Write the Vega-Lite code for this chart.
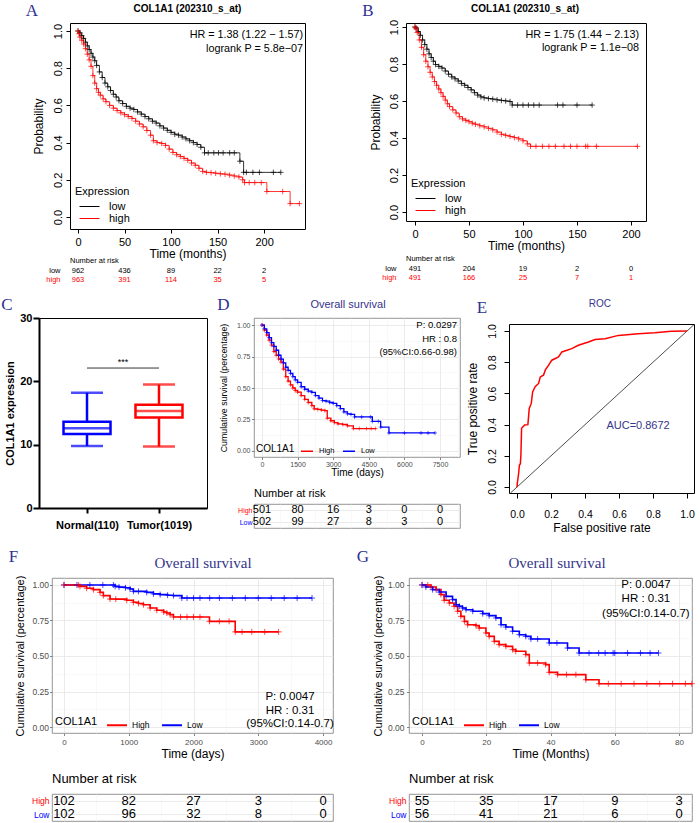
{
"$schema":"https://vega.github.io/schema/vega-lite/v6.json",
"padding":{"left":0,"top":1,"right":0,"bottom":0},
"autosize":{"type":"pad"},
"config":{"font":"Liberation Sans","view":{"stroke":null},"axis":{"labelFlush":false,"labelOverlap":false,"tickCount":20},"title":{"fontWeight":"normal","color":"black"}},
"datasets":{
"kmA":[
{"t":0,"s":1,"g":"low"},{"t":2,"s":0.99,"g":"low"},{"t":4,"s":0.975,"g":"low"},{"t":6,"s":0.96,"g":"low"},{"t":8,"s":0.94,"g":"low"},{"t":10,"s":0.92,"g":"low"},{"t":12,"s":0.9,"g":"low"},{"t":14,"s":0.88,"g":"low"},{"t":16,"s":0.86,"g":"low"},{"t":18,"s":0.84,"g":"low"},{"t":20,"s":0.815,"g":"low"},{"t":23,"s":0.78,"g":"low"},{"t":26,"s":0.75,"g":"low"},{"t":29,"s":0.72,"g":"low"},{"t":32,"s":0.7,"g":"low"},{"t":35,"s":0.68,"g":"low"},{"t":38,"s":0.66,"g":"low"},{"t":41,"s":0.645,"g":"low"},{"t":44,"s":0.625,"g":"low"},{"t":48,"s":0.61,"g":"low"},{"t":52,"s":0.595,"g":"low"},{"t":56,"s":0.585,"g":"low"},{"t":60,"s":0.578,"g":"low"},{"t":64,"s":0.565,"g":"low"},{"t":68,"s":0.553,"g":"low"},{"t":72,"s":0.54,"g":"low"},{"t":76,"s":0.528,"g":"low"},{"t":80,"s":0.515,"g":"low"},{"t":84,"s":0.505,"g":"low"},{"t":88,"s":0.49,"g":"low"},{"t":92,"s":0.478,"g":"low"},{"t":96,"s":0.466,"g":"low"},{"t":100,"s":0.455,"g":"low"},{"t":104,"s":0.445,"g":"low"},{"t":108,"s":0.44,"g":"low"},{"t":112,"s":0.43,"g":"low"},{"t":116,"s":0.42,"g":"low"},{"t":120,"s":0.41,"g":"low"},{"t":124,"s":0.4,"g":"low"},{"t":128,"s":0.39,"g":"low"},{"t":132,"s":0.375,"g":"low"},{"t":136,"s":0.345,"g":"low"},{"t":140,"s":0.345,"g":"low"},{"t":146,"s":0.345,"g":"low"},{"t":151,"s":0.345,"g":"low"},{"t":156,"s":0.345,"g":"low"},{"t":163,"s":0.345,"g":"low"},{"t":168,"s":0.345,"g":"low"},{"t":174,"s":0.3,"g":"low"},{"t":178,"s":0.24,"g":"low"},{"t":181,"s":0.24,"g":"low"},{"t":188,"s":0.24,"g":"low"},{"t":195,"s":0.24,"g":"low"},{"t":210,"s":0.24,"g":"low"},{"t":218,"s":0.24,"g":"low"},
{"t":0,"s":1,"g":"high"},{"t":1,"s":0.985,"g":"high"},{"t":2,"s":0.967,"g":"high"},{"t":4,"s":0.95,"g":"high"},{"t":6,"s":0.93,"g":"high"},{"t":8,"s":0.905,"g":"high"},{"t":10,"s":0.875,"g":"high"},{"t":12,"s":0.845,"g":"high"},{"t":14,"s":0.81,"g":"high"},{"t":16,"s":0.76,"g":"high"},{"t":18,"s":0.72,"g":"high"},{"t":20,"s":0.69,"g":"high"},{"t":22,"s":0.67,"g":"high"},{"t":24,"s":0.655,"g":"high"},{"t":27,"s":0.635,"g":"high"},{"t":30,"s":0.62,"g":"high"},{"t":34,"s":0.6,"g":"high"},{"t":38,"s":0.585,"g":"high"},{"t":42,"s":0.572,"g":"high"},{"t":46,"s":0.56,"g":"high"},{"t":50,"s":0.55,"g":"high"},{"t":54,"s":0.54,"g":"high"},{"t":58,"s":0.53,"g":"high"},{"t":62,"s":0.515,"g":"high"},{"t":66,"s":0.5,"g":"high"},{"t":70,"s":0.485,"g":"high"},{"t":74,"s":0.465,"g":"high"},{"t":78,"s":0.44,"g":"high"},{"t":81,"s":0.41,"g":"high"},{"t":85,"s":0.4,"g":"high"},{"t":90,"s":0.395,"g":"high"},{"t":94,"s":0.385,"g":"high"},{"t":98,"s":0.365,"g":"high"},{"t":102,"s":0.347,"g":"high"},{"t":106,"s":0.335,"g":"high"},{"t":110,"s":0.325,"g":"high"},{"t":114,"s":0.315,"g":"high"},{"t":118,"s":0.305,"g":"high"},{"t":122,"s":0.29,"g":"high"},{"t":126,"s":0.278,"g":"high"},{"t":130,"s":0.262,"g":"high"},{"t":134,"s":0.245,"g":"high"},{"t":138,"s":0.24,"g":"high"},{"t":143,"s":0.238,"g":"high"},{"t":148,"s":0.235,"g":"high"},{"t":153,"s":0.232,"g":"high"},{"t":158,"s":0.23,"g":"high"},{"t":163,"s":0.225,"g":"high"},{"t":168,"s":0.22,"g":"high"},{"t":173,"s":0.215,"g":"high"},{"t":177,"s":0.2,"g":"high"},{"t":179,"s":0.185,"g":"high"},{"t":184,"s":0.185,"g":"high"},{"t":190,"s":0.185,"g":"high"},{"t":197,"s":0.185,"g":"high"},{"t":203,"s":0.137,"g":"high"},{"t":220,"s":0.137,"g":"high"},{"t":228,"s":0.072,"g":"high"},{"t":238,"s":0.072,"g":"high"}
],
"kmB":[
{"t":0,"s":1,"g":"low"},{"t":1,"s":0.995,"g":"low"},{"t":3,"s":0.975,"g":"low"},{"t":5,"s":0.955,"g":"low"},{"t":7,"s":0.93,"g":"low"},{"t":9,"s":0.905,"g":"low"},{"t":11,"s":0.88,"g":"low"},{"t":13,"s":0.855,"g":"low"},{"t":15,"s":0.835,"g":"low"},{"t":17,"s":0.815,"g":"low"},{"t":19,"s":0.797,"g":"low"},{"t":22,"s":0.787,"g":"low"},{"t":25,"s":0.778,"g":"low"},{"t":28,"s":0.762,"g":"low"},{"t":31,"s":0.745,"g":"low"},{"t":34,"s":0.73,"g":"low"},{"t":37,"s":0.72,"g":"low"},{"t":40,"s":0.708,"g":"low"},{"t":43,"s":0.695,"g":"low"},{"t":46,"s":0.685,"g":"low"},{"t":49,"s":0.673,"g":"low"},{"t":52,"s":0.66,"g":"low"},{"t":55,"s":0.645,"g":"low"},{"t":58,"s":0.632,"g":"low"},{"t":61,"s":0.622,"g":"low"},{"t":64,"s":0.617,"g":"low"},{"t":68,"s":0.613,"g":"low"},{"t":72,"s":0.61,"g":"low"},{"t":76,"s":0.606,"g":"low"},{"t":80,"s":0.603,"g":"low"},{"t":84,"s":0.6,"g":"low"},{"t":88,"s":0.597,"g":"low"},{"t":90,"s":0.578,"g":"low"},{"t":95,"s":0.578,"g":"low"},{"t":100,"s":0.578,"g":"low"},{"t":105,"s":0.578,"g":"low"},{"t":110,"s":0.578,"g":"low"},{"t":115,"s":0.578,"g":"low"},{"t":132,"s":0.578,"g":"low"},{"t":137,"s":0.578,"g":"low"},{"t":150,"s":0.578,"g":"low"},{"t":164,"s":0.578,"g":"low"},
{"t":0,"s":1,"g":"high"},{"t":1,"s":0.99,"g":"high"},{"t":2,"s":0.97,"g":"high"},{"t":4,"s":0.93,"g":"high"},{"t":6,"s":0.89,"g":"high"},{"t":8,"s":0.85,"g":"high"},{"t":10,"s":0.815,"g":"high"},{"t":12,"s":0.785,"g":"high"},{"t":14,"s":0.755,"g":"high"},{"t":16,"s":0.73,"g":"high"},{"t":18,"s":0.705,"g":"high"},{"t":20,"s":0.685,"g":"high"},{"t":22,"s":0.665,"g":"high"},{"t":24,"s":0.645,"g":"high"},{"t":26,"s":0.625,"g":"high"},{"t":28,"s":0.605,"g":"high"},{"t":30,"s":0.585,"g":"high"},{"t":32,"s":0.57,"g":"high"},{"t":35,"s":0.552,"g":"high"},{"t":38,"s":0.535,"g":"high"},{"t":41,"s":0.515,"g":"high"},{"t":44,"s":0.503,"g":"high"},{"t":47,"s":0.495,"g":"high"},{"t":50,"s":0.488,"g":"high"},{"t":53,"s":0.48,"g":"high"},{"t":56,"s":0.474,"g":"high"},{"t":60,"s":0.466,"g":"high"},{"t":64,"s":0.46,"g":"high"},{"t":68,"s":0.452,"g":"high"},{"t":72,"s":0.444,"g":"high"},{"t":76,"s":0.432,"g":"high"},{"t":80,"s":0.42,"g":"high"},{"t":84,"s":0.414,"g":"high"},{"t":88,"s":0.408,"g":"high"},{"t":92,"s":0.402,"g":"high"},{"t":96,"s":0.395,"g":"high"},{"t":100,"s":0.385,"g":"high"},{"t":104,"s":0.368,"g":"high"},{"t":107,"s":0.355,"g":"high"},{"t":112,"s":0.355,"g":"high"},{"t":118,"s":0.355,"g":"high"},{"t":124,"s":0.355,"g":"high"},{"t":130,"s":0.355,"g":"high"},{"t":138,"s":0.355,"g":"high"},{"t":144,"s":0.355,"g":"high"},{"t":150,"s":0.355,"g":"high"},{"t":158,"s":0.355,"g":"high"},{"t":160,"s":0.355,"g":"high"},{"t":168,"s":0.355,"g":"high"},{"t":206,"s":0.355,"g":"high"}
],
"kmD":[
{"t":0,"s":1,"g":"High"},{"t":100,"s":0.96,"g":"High"},{"t":200,"s":0.92,"g":"High"},{"t":300,"s":0.88,"g":"High"},{"t":400,"s":0.84,"g":"High"},{"t":500,"s":0.79,"g":"High"},{"t":600,"s":0.76,"g":"High"},{"t":700,"s":0.73,"g":"High"},{"t":800,"s":0.705,"g":"High"},{"t":900,"s":0.65,"g":"High"},{"t":1000,"s":0.59,"g":"High"},{"t":1100,"s":0.555,"g":"High"},{"t":1200,"s":0.525,"g":"High"},{"t":1300,"s":0.5,"g":"High"},{"t":1400,"s":0.48,"g":"High"},{"t":1500,"s":0.467,"g":"High"},{"t":1650,"s":0.44,"g":"High"},{"t":1800,"s":0.41,"g":"High"},{"t":1950,"s":0.385,"g":"High"},{"t":2100,"s":0.36,"g":"High"},{"t":2200,"s":0.335,"g":"High"},{"t":2350,"s":0.33,"g":"High"},{"t":2500,"s":0.325,"g":"High"},{"t":2650,"s":0.32,"g":"High"},{"t":2750,"s":0.26,"g":"High"},{"t":2900,"s":0.24,"g":"High"},{"t":3050,"s":0.225,"g":"High"},{"t":3200,"s":0.215,"g":"High"},{"t":3400,"s":0.21,"g":"High"},{"t":3600,"s":0.2,"g":"High"},{"t":3850,"s":0.178,"g":"High"},{"t":4100,"s":0.178,"g":"High"},{"t":4400,"s":0.178,"g":"High"},{"t":4600,"s":0.178,"g":"High"},{"t":4790,"s":0.178,"g":"High"},
{"t":0,"s":1,"g":"Low"},{"t":100,"s":0.97,"g":"Low"},{"t":200,"s":0.94,"g":"Low"},{"t":300,"s":0.9,"g":"Low"},{"t":400,"s":0.86,"g":"Low"},{"t":500,"s":0.83,"g":"Low"},{"t":600,"s":0.8,"g":"Low"},{"t":700,"s":0.76,"g":"Low"},{"t":800,"s":0.73,"g":"Low"},{"t":900,"s":0.7,"g":"Low"},{"t":1000,"s":0.665,"g":"Low"},{"t":1100,"s":0.64,"g":"Low"},{"t":1200,"s":0.615,"g":"Low"},{"t":1300,"s":0.59,"g":"Low"},{"t":1400,"s":0.565,"g":"Low"},{"t":1500,"s":0.545,"g":"Low"},{"t":1650,"s":0.51,"g":"Low"},{"t":1800,"s":0.49,"g":"Low"},{"t":1950,"s":0.475,"g":"Low"},{"t":2100,"s":0.465,"g":"Low"},{"t":2250,"s":0.44,"g":"Low"},{"t":2400,"s":0.42,"g":"Low"},{"t":2550,"s":0.4,"g":"Low"},{"t":2700,"s":0.395,"g":"Low"},{"t":2850,"s":0.385,"g":"Low"},{"t":3000,"s":0.378,"g":"Low"},{"t":3150,"s":0.36,"g":"Low"},{"t":3300,"s":0.337,"g":"Low"},{"t":3450,"s":0.31,"g":"Low"},{"t":3600,"s":0.295,"g":"Low"},{"t":3750,"s":0.29,"g":"Low"},{"t":3900,"s":0.27,"g":"Low"},{"t":4200,"s":0.27,"g":"Low"},{"t":4580,"s":0.27,"g":"Low"},{"t":4650,"s":0.235,"g":"Low"},{"t":4900,"s":0.235,"g":"Low"},{"t":5000,"s":0.19,"g":"Low"},{"t":5350,"s":0.143,"g":"Low"},{"t":6000,"s":0.143,"g":"Low"},{"t":6700,"s":0.143,"g":"Low"},{"t":7000,"s":0.143,"g":"Low"},{"t":7290,"s":0.143,"g":"Low"}
],
"kmF":[
{"t":0,"s":1,"g":"Low"},{"t":200,"s":1,"g":"Low"},{"t":400,"s":1,"g":"Low"},{"t":600,"s":1,"g":"Low"},{"t":763,"s":1,"g":"Low"},{"t":790,"s":0.99,"g":"Low"},{"t":850,"s":0.985,"g":"Low"},{"t":950,"s":0.98,"g":"Low"},{"t":1020,"s":0.972,"g":"Low"},{"t":1072,"s":0.955,"g":"Low"},{"t":1150,"s":0.955,"g":"Low"},{"t":1278,"s":0.948,"g":"Low"},{"t":1381,"s":0.937,"g":"Low"},{"t":1485,"s":0.932,"g":"Low"},{"t":1600,"s":0.928,"g":"Low"},{"t":1691,"s":0.925,"g":"Low"},{"t":1820,"s":0.908,"g":"Low"},{"t":1900,"s":0.908,"g":"Low"},{"t":2000,"s":0.908,"g":"Low"},{"t":2100,"s":0.908,"g":"Low"},{"t":2250,"s":0.908,"g":"Low"},{"t":2400,"s":0.908,"g":"Low"},{"t":2600,"s":0.908,"g":"Low"},{"t":2800,"s":0.908,"g":"Low"},{"t":3000,"s":0.908,"g":"Low"},{"t":3200,"s":0.908,"g":"Low"},{"t":3400,"s":0.908,"g":"Low"},{"t":3600,"s":0.908,"g":"Low"},{"t":3830,"s":0.908,"g":"Low"},
{"t":0,"s":1,"g":"High"},{"t":222,"s":1,"g":"High"},{"t":247,"s":0.99,"g":"High"},{"t":350,"s":0.977,"g":"High"},{"t":454,"s":0.967,"g":"High"},{"t":557,"s":0.948,"g":"High"},{"t":608,"s":0.925,"g":"High"},{"t":711,"s":0.901,"g":"High"},{"t":800,"s":0.9,"g":"High"},{"t":969,"s":0.892,"g":"High"},{"t":1072,"s":0.878,"g":"High"},{"t":1150,"s":0.87,"g":"High"},{"t":1227,"s":0.861,"g":"High"},{"t":1330,"s":0.838,"g":"High"},{"t":1433,"s":0.822,"g":"High"},{"t":1540,"s":0.81,"g":"High"},{"t":1588,"s":0.803,"g":"High"},{"t":1639,"s":0.791,"g":"High"},{"t":1691,"s":0.775,"g":"High"},{"t":1800,"s":0.775,"g":"High"},{"t":1900,"s":0.775,"g":"High"},{"t":2000,"s":0.775,"g":"High"},{"t":2100,"s":0.775,"g":"High"},{"t":2247,"s":0.744,"g":"High"},{"t":2400,"s":0.744,"g":"High"},{"t":2550,"s":0.744,"g":"High"},{"t":2644,"s":0.67,"g":"High"},{"t":2750,"s":0.67,"g":"High"},{"t":2900,"s":0.67,"g":"High"},{"t":3100,"s":0.67,"g":"High"},{"t":3314,"s":0.67,"g":"High"}
],
"kmG":[
{"t":0,"s":1,"g":"High"},{"t":1.8,"s":1,"g":"High"},{"t":2.8,"s":0.986,"g":"High"},{"t":4.4,"s":0.967,"g":"High"},{"t":5.9,"s":0.932,"g":"High"},{"t":6.9,"s":0.892,"g":"High"},{"t":8.5,"s":0.873,"g":"High"},{"t":10,"s":0.85,"g":"High"},{"t":11.1,"s":0.815,"g":"High"},{"t":12.1,"s":0.779,"g":"High"},{"t":13.2,"s":0.744,"g":"High"},{"t":14.2,"s":0.72,"g":"High"},{"t":16.8,"s":0.714,"g":"High"},{"t":17.8,"s":0.697,"g":"High"},{"t":19.9,"s":0.662,"g":"High"},{"t":20.9,"s":0.638,"g":"High"},{"t":22.5,"s":0.603,"g":"High"},{"t":24,"s":0.58,"g":"High"},{"t":26.1,"s":0.568,"g":"High"},{"t":28.2,"s":0.545,"g":"High"},{"t":29.2,"s":0.533,"g":"High"},{"t":32.3,"s":0.51,"g":"High"},{"t":33.4,"s":0.451,"g":"High"},{"t":36,"s":0.451,"g":"High"},{"t":38.5,"s":0.439,"g":"High"},{"t":39.6,"s":0.385,"g":"High"},{"t":42.2,"s":0.369,"g":"High"},{"t":45,"s":0.369,"g":"High"},{"t":47.9,"s":0.369,"g":"High"},{"t":51,"s":0.333,"g":"High"},{"t":55.1,"s":0.305,"g":"High"},{"t":58,"s":0.305,"g":"High"},{"t":62,"s":0.305,"g":"High"},{"t":66,"s":0.305,"g":"High"},{"t":70,"s":0.305,"g":"High"},{"t":74,"s":0.305,"g":"High"},{"t":78,"s":0.305,"g":"High"},{"t":82,"s":0.305,"g":"High"},{"t":84,"s":0.305,"g":"High"},
{"t":0,"s":1,"g":"Low"},{"t":1.2,"s":0.986,"g":"Low"},{"t":3.3,"s":0.967,"g":"Low"},{"t":5.4,"s":0.95,"g":"Low"},{"t":7.5,"s":0.92,"g":"Low"},{"t":9.5,"s":0.897,"g":"Low"},{"t":10.6,"s":0.861,"g":"Low"},{"t":11.6,"s":0.85,"g":"Low"},{"t":12.6,"s":0.838,"g":"Low"},{"t":13.7,"s":0.826,"g":"Low"},{"t":15.8,"s":0.815,"g":"Low"},{"t":18.9,"s":0.798,"g":"Low"},{"t":20.9,"s":0.784,"g":"Low"},{"t":23,"s":0.768,"g":"Low"},{"t":24.6,"s":0.72,"g":"Low"},{"t":26.1,"s":0.704,"g":"Low"},{"t":28.2,"s":0.674,"g":"Low"},{"t":30.3,"s":0.65,"g":"Low"},{"t":32.3,"s":0.638,"g":"Low"},{"t":33.9,"s":0.62,"g":"Low"},{"t":36,"s":0.62,"g":"Low"},{"t":39.6,"s":0.592,"g":"Low"},{"t":42,"s":0.592,"g":"Low"},{"t":45.3,"s":0.556,"g":"Low"},{"t":48.9,"s":0.521,"g":"Low"},{"t":52,"s":0.521,"g":"Low"},{"t":55,"s":0.521,"g":"Low"},{"t":57,"s":0.521,"g":"Low"},{"t":59.5,"s":0.521,"g":"Low"},{"t":60,"s":0.521,"g":"Low"},{"t":64,"s":0.521,"g":"Low"},{"t":68,"s":0.521,"g":"Low"},{"t":71,"s":0.521,"g":"Low"},{"t":73.6,"s":0.521,"g":"Low"}
],
"roc":[
{"fpr":0,"tpr":0},{"fpr":0.002,"tpr":0.026},{"fpr":0.01,"tpr":0.09},{"fpr":0.014,"tpr":0.14},{"fpr":0.02,"tpr":0.15},{"fpr":0.023,"tpr":0.206},{"fpr":0.027,"tpr":0.377},{"fpr":0.045,"tpr":0.398},{"fpr":0.064,"tpr":0.4},{"fpr":0.068,"tpr":0.45},{"fpr":0.072,"tpr":0.504},{"fpr":0.084,"tpr":0.536},{"fpr":0.092,"tpr":0.61},{"fpr":0.107,"tpr":0.643},{"fpr":0.127,"tpr":0.664},{"fpr":0.137,"tpr":0.706},{"fpr":0.156,"tpr":0.717},{"fpr":0.166,"tpr":0.749},{"fpr":0.186,"tpr":0.781},{"fpr":0.205,"tpr":0.813},{"fpr":0.244,"tpr":0.834},{"fpr":0.264,"tpr":0.866},{"fpr":0.322,"tpr":0.887},{"fpr":0.361,"tpr":0.909},{"fpr":0.42,"tpr":0.93},{"fpr":0.459,"tpr":0.945},{"fpr":0.518,"tpr":0.951},{"fpr":0.596,"tpr":0.972},{"fpr":0.713,"tpr":0.983},{"fpr":0.81,"tpr":0.989},{"fpr":0.908,"tpr":0.998},{"fpr":1,"tpr":1}
],
"diag":[{"x":-0.038,"y":-0.038},{"x":1.041,"y":1.041}],
"box":[
{"grp":"Normal(110)","min":9.8,"q1":11.7,"med":12.6,"q3":13.6,"max":18.2},
{"grp":"Tumor(1019)","min":9.7,"q1":14.3,"med":15.3,"q3":16.3,"max":19.5}
],
"riskA":[{"t":0,"g":"low","n":"962"},{"t":50,"g":"low","n":"436"},{"t":100,"g":"low","n":"89"},{"t":150,"g":"low","n":"22"},{"t":200,"g":"low","n":"2"},{"t":0,"g":"high","n":"963"},{"t":50,"g":"high","n":"391"},{"t":100,"g":"high","n":"114"},{"t":150,"g":"high","n":"35"},{"t":200,"g":"high","n":"5"}],
"riskB":[{"t":0,"g":"low","n":"491"},{"t":50,"g":"low","n":"204"},{"t":100,"g":"low","n":"19"},{"t":150,"g":"low","n":"2"},{"t":200,"g":"low","n":"0"},{"t":0,"g":"high","n":"491"},{"t":50,"g":"high","n":"166"},{"t":100,"g":"high","n":"25"},{"t":150,"g":"high","n":"7"},{"t":200,"g":"high","n":"1"}],
"riskD":[{"t":0,"g":"High","n":"501"},{"t":1500,"g":"High","n":"80"},{"t":3000,"g":"High","n":"16"},{"t":4500,"g":"High","n":"3"},{"t":6000,"g":"High","n":"0"},{"t":7500,"g":"High","n":"0"},{"t":0,"g":"Low","n":"502"},{"t":1500,"g":"Low","n":"99"},{"t":3000,"g":"Low","n":"27"},{"t":4500,"g":"Low","n":"8"},{"t":6000,"g":"Low","n":"3"},{"t":7500,"g":"Low","n":"0"}],
"riskF":[{"t":0,"g":"High","n":"102"},{"t":1000,"g":"High","n":"82"},{"t":2000,"g":"High","n":"27"},{"t":3000,"g":"High","n":"3"},{"t":4000,"g":"High","n":"0"},{"t":0,"g":"Low","n":"102"},{"t":1000,"g":"Low","n":"96"},{"t":2000,"g":"Low","n":"32"},{"t":3000,"g":"Low","n":"8"},{"t":4000,"g":"Low","n":"0"}],
"riskG":[{"t":0,"g":"High","n":"55"},{"t":20,"g":"High","n":"35"},{"t":40,"g":"High","n":"17"},{"t":60,"g":"High","n":"9"},{"t":80,"g":"High","n":"3"},{"t":0,"g":"Low","n":"56"},{"t":20,"g":"Low","n":"41"},{"t":40,"g":"Low","n":"21"},{"t":60,"g":"Low","n":"6"},{"t":80,"g":"Low","n":"0"}]
},
"spacing":11,
"resolve":{"scale":{"color":"independent"},"legend":{"color":"independent"}},
"vconcat":[
{"spacing":-15,"resolve":{"scale":{"color":"independent"},"legend":{"color":"independent"}},
 "hconcat":[
  {"width":1,"height":1,"data":{"values":[]},"mark":"point"},
  {"spacing":55,"resolve":{"scale":{"color":"independent"},"legend":{"color":"independent"}},
   "hconcat":[
    {"bounds":"flush","spacing":37,"resolve":{"scale":{"color":"independent"},"legend":{"color":"independent"}},
     "vconcat":[
      {"width":235,"height":206,"view":{"stroke":"black","strokeWidth":1},
       "layer":[
        {"data":{"name":"kmA"},"mark":{"type":"line","interpolate":"step-after","strokeWidth":0.8},
         "encoding":{
          "x":{"field":"t","type":"quantitative","scale":{"domain":[-8.6,244],"nice":false,"zero":false},
               "axis":{"values":[0,50,100,150,200],"tickCount":20,"format":"d","labelOverlap":false,"title":"Time (months)","titleFontSize":12,"titleFontWeight":"normal","titleColor":"black","titlePadding":1,"labelFontSize":11,"labelColor":"black","labelPadding":3,"tickSize":4,"tickColor":"black","domain":false,"grid":false}},
          "y":{"field":"s","type":"quantitative","scale":{"domain":[-0.0645,1.043],"nice":false,"zero":false},
               "axis":{"values":[0,0.2,0.4,0.6,0.8,1],"tickCount":20,"format":".1f","labelOverlap":false,"labelAngle":270,"title":"Probability","titleFontSize":12,"titleFontWeight":"normal","titleColor":"black","titlePadding":7,"labelFontSize":11,"labelColor":"black","labelPadding":3,"tickSize":4,"tickColor":"black","domain":false,"grid":false}},
          "color":{"field":"g","type":"nominal","scale":{"domain":["low","high"],"range":["black","#ff0000"]},
               "legend":{"orient":"bottom-left","title":"Expression","titleFontSize":11,"titleFontWeight":"normal","titleColor":"black","labelFontSize":11,"labelColor":"black","symbolType":"M-0.33,0H3","symbolStrokeWidth":1,"symbolSize":144,"offset":5,"padding":0,"rowPadding":0,"labelOffset":21,"titlePadding":3}}}},
        {"data":{"name":"kmA"},"mark":{"type":"point","shape":"M-1,0L1,0M0,-1L0,1","size":30,"filled":false,"strokeWidth":0.7,"opacity":1},
         "encoding":{"x":{"field":"t","type":"quantitative"},"y":{"field":"s","type":"quantitative"},"color":{"field":"g","type":"nominal"}}},
        {"data":{"values":[{}]},"mark":{"type":"text","align":"right","baseline":"top","fontSize":10.8,"lineHeight":14,"color":"black","text":["HR = 1.38 (1.22 − 1.57)","logrank P = 5.8e−07"]},
         "encoding":{"x":{"datum":242},"y":{"datum":1.011}}},
        {"data":{"values":[{}]},"mark":{"type":"text","align":"center","baseline":"middle","fontSize":10,"fontWeight":"bold","color":"black","text":"COL1A1 (202310_s_at)"},
         "encoding":{"x":{"datum":117.7},"y":{"datum":1.1156}}},
        {"data":{"values":[{}]},"mark":{"type":"text","text":"A","font":"Liberation Serif","fontSize":17,"align":"center","baseline":"alphabetic","color":"#2e3192"},
         "encoding":{"x":{"datum":-49.5},"y":{"datum":1.081}}}
       ]},
      {"width":235,"height":18,
       "title":{"text":"Number at risk","anchor":"start","frame":"group","fontSize":7.5,"offset":2,"color":"black"},
       "data":{"name":"riskA"},
       "mark":{"type":"text","fontSize":7.5},
       "encoding":{
        "x":{"field":"t","type":"quantitative","scale":{"domain":[-8.6,244],"nice":false,"zero":false},"axis":null},
        "y":{"field":"g","type":"nominal","scale":{"domain":["low","high"]},"axis":{"title":null,"domain":false,"ticks":false,"labelFontSize":7.5,"labelPadding":10,"labelColor":{"condition":{"test":"datum.value==='high'","value":"#ff0000"},"value":"black"}}},
        "text":{"field":"n"},
        "color":{"condition":{"test":"datum.g==='high'","value":"#ff0000"},"value":"black"}
       }}
     ]},
    {"bounds":"flush","spacing":43,"resolve":{"scale":{"color":"independent"},"legend":{"color":"independent"}},
     "vconcat":[
      {"width":240,"height":198,"view":{"stroke":"black","strokeWidth":1},
       "layer":[
        {"data":{"name":"kmB"},"mark":{"type":"line","interpolate":"step-after","strokeWidth":0.8},
         "encoding":{
          "x":{"field":"t","type":"quantitative","scale":{"domain":[-8.33,213.9],"nice":false,"zero":false},
               "axis":{"values":[0,50,100,150,200],"tickCount":20,"format":"d","labelOverlap":false,"title":"Time (months)","titleFontSize":12,"titleFontWeight":"normal","titleColor":"black","titlePadding":1,"labelFontSize":11,"labelColor":"black","labelPadding":3,"tickSize":4,"tickColor":"black","domain":false,"grid":false}},
          "y":{"field":"s","type":"quantitative","scale":{"domain":[-0.0486,1.0216],"nice":false,"zero":false},
               "axis":{"values":[0,0.2,0.4,0.6,0.8,1],"tickCount":20,"format":".1f","labelOverlap":false,"labelAngle":270,"title":"Probability","titleFontSize":12,"titleFontWeight":"normal","titleColor":"black","titlePadding":6,"labelFontSize":11,"labelColor":"black","labelPadding":3,"tickSize":4,"tickColor":"black","domain":false,"grid":false}},
          "color":{"field":"g","type":"nominal","scale":{"domain":["low","high"],"range":["black","#ff0000"]},
               "legend":{"orient":"bottom-left","title":"Expression","titleFontSize":11,"titleFontWeight":"normal","titleColor":"black","labelFontSize":11,"labelColor":"black","symbolType":"M-0.33,0H3","symbolStrokeWidth":1,"symbolSize":144,"offset":5,"padding":0,"rowPadding":0,"labelOffset":21,"titlePadding":3}}}},
        {"data":{"name":"kmB"},"mark":{"type":"point","shape":"M-1,0L1,0M0,-1L0,1","size":30,"filled":false,"strokeWidth":0.7,"opacity":1},
         "encoding":{"x":{"field":"t","type":"quantitative"},"y":{"field":"s","type":"quantitative"},"color":{"field":"g","type":"nominal"}}},
        {"data":{"values":[{}]},"mark":{"type":"text","align":"right","baseline":"top","fontSize":10.8,"lineHeight":12.5,"color":"black","text":["HR = 1.75 (1.44 − 2.13)","logrank P = 1.1e−08"]},
         "encoding":{"x":{"datum":207.4},"y":{"datum":0.989}}},
        {"data":{"values":[{}]},"mark":{"type":"text","align":"center","baseline":"middle","fontSize":10,"fontWeight":"bold","color":"black","text":"COL1A1 (202310_s_at)"},
         "encoding":{"x":{"datum":101.9},"y":{"datum":1.0946}}},
        {"data":{"values":[{}]},"mark":{"type":"text","text":"B","font":"Liberation Serif","fontSize":17,"align":"center","baseline":"alphabetic","color":"#2e3192"},
         "encoding":{"x":{"datum":-43.5},"y":{"datum":1.059}}}
       ]},
      {"width":240,"height":18,
       "title":{"text":"Number at risk","anchor":"start","frame":"group","fontSize":7.5,"offset":2,"color":"black"},
       "data":{"name":"riskB"},
       "mark":{"type":"text","fontSize":7.5},
       "encoding":{
        "x":{"field":"t","type":"quantitative","scale":{"domain":[-8.33,213.9],"nice":false,"zero":false},"axis":null},
        "y":{"field":"g","type":"nominal","scale":{"domain":["low","high"]},"axis":{"title":null,"domain":false,"ticks":false,"labelFontSize":7.5,"labelPadding":10,"labelColor":{"condition":{"test":"datum.value==='high'","value":"#ff0000"},"value":"black"}}},
        "text":{"field":"n"},
        "color":{"condition":{"test":"datum.g==='high'","value":"#ff0000"},"value":"black"}
       }}
     ]}
   ]}
 ]},
{"spacing":13,"resolve":{"scale":{"color":"independent"},"legend":{"color":"independent"}},
 "vconcat":[
  {"spacing":8,"resolve":{"scale":{"color":"independent"},"legend":{"color":"independent"}},
   "hconcat":[
    {"width":168,"height":190,"view":{"stroke":"black","strokeWidth":1},
     "data":{"name":"box"},
     "encoding":{
      "x":{"field":"grp","type":"nominal","scale":{"type":"point","domain":["Normal(110)","Tumor(1019)"],"padding":0.667},
           "axis":{"title":null,"labelAngle":0,"labelFontSize":11,"labelFontWeight":"bold","labelColor":"black","domainColor":"black","domainWidth":2,"tickColor":"black","tickWidth":2,"tickSize":5,"labelPadding":6}},
      "color":{"condition":{"test":"datum.grp==='Normal(110)'","value":"#0000ff"},"value":"#ff0000"}
     },
     "layer":[
      {"mark":{"type":"rule","strokeWidth":2.5},
       "encoding":{"y":{"field":"min","type":"quantitative","scale":{"domain":[0,30],"nice":false,"zero":true},
            "axis":{"values":[0,10,20,30],"tickCount":20,"labelOverlap":false,"title":"COL1A1 expression","titleFontSize":11,"titleFontWeight":"bold","titleColor":"black","titlePadding":4,"labelFontSize":11,"labelFontWeight":"bold","labelColor":"black","domainColor":"black","domainWidth":2,"tickColor":"black","tickWidth":2,"tickSize":6,"labelPadding":1,"grid":false}},
        "y2":{"field":"max"}}},
      {"mark":{"type":"bar","width":47,"fill":"white","strokeWidth":2.5},
       "encoding":{"y":{"field":"q1","type":"quantitative"},"y2":{"field":"q3"},
        "stroke":{"condition":{"test":"datum.grp==='Normal(110)'","value":"#0000ff"},"value":"#ff0000"},
        "fill":{"value":"white"}}},
      {"mark":{"type":"tick","size":47,"thickness":2.5},"encoding":{"y":{"field":"med","type":"quantitative"}}},
      {"mark":{"type":"tick","size":32,"thickness":2.5},"encoding":{"y":{"field":"min","type":"quantitative"}}},
      {"mark":{"type":"tick","size":32,"thickness":2.5},"encoding":{"y":{"field":"max","type":"quantitative"}}},
      {"data":{"values":[{}]},"mark":{"type":"rule","strokeWidth":0.8},
       "encoding":{"x":{"datum":"Normal(110)"},"x2":{"datum":"Tumor(1019)"},"y":{"datum":22.1},"color":{"value":"black"}}},
      {"data":{"values":[{}]},"mark":{"type":"text","text":"***","fontSize":9,"dx":36,"align":"center","baseline":"alphabetic"},
       "encoding":{"x":{"datum":"Normal(110)"},"y":{"datum":22.6},"color":{"value":"black"}}},
      {"data":{"values":[{}]},"mark":{"type":"text","text":"C","font":"Liberation Serif","fontSize":17,"dx":-80,"align":"center","baseline":"alphabetic"},
       "encoding":{"x":{"datum":"Normal(110)"},"y":{"datum":31.26},"color":{"value":"#2e3192"}}}
     ]},
    {"spacing":5,"resolve":{"scale":{"color":"independent"},"legend":{"color":"independent"}},
     "hconcat":[
      {"bounds":"flush","spacing":47,"resolve":{"scale":{"color":"independent"},"legend":{"color":"independent"}},
       "vconcat":[
        {"width":206,"height":139,"view":{"stroke":"#7a7a7a","strokeWidth":0.8},
         "layer":[
          {"data":{"name":"kmD"},"mark":{"type":"line","interpolate":"step-after","strokeWidth":1.3},
           "encoding":{
            "x":{"field":"t","type":"quantitative","scale":{"domain":[-337,8343],"nice":false,"zero":false},
                 "axis":{"values":[0,750,1500,2250,3000,3750,4500,5250,6000,6750,7500,8250],"tickCount":20,"format":"d","labelOverlap":false,"labelExpr":"datum.value % 1500 === 0 ? datum.label : ''",
                         "tickOpacity":{"condition":{"test":"datum.value % 1500 !== 0","value":0},"value":1},
                         "grid":true,"gridColor":{"condition":{"test":"datum.value % 1500 !== 0","value":"#f3f3f3"},"value":"#e6e6e6"},"gridWidth":{"condition":{"test":"datum.value % 1500 !== 0","value":0.5},"value":0.8},
                         "domain":false,"tickSize":2.5,"tickColor":"#333333","tickWidth":0.6,"labelFontSize":7,"labelColor":"#4d4d4d","labelPadding":1,
                         "title":"Time (days)","titleFontSize":10,"titleFontWeight":"normal","titleColor":"black","titlePadding":0}},
            "y":{"field":"s","type":"quantitative","scale":{"domain":[-0.048,1.056],"nice":false,"zero":false},
                 "axis":{"values":[0,0.125,0.25,0.375,0.5,0.625,0.75,0.875,1],"tickCount":20,"format":".2f","labelOverlap":false,"labelExpr":"abs(datum.value*4-round(datum.value*4))>0.01 ? '' : datum.label",
                         "tickOpacity":{"condition":{"test":"abs(datum.value*4-round(datum.value*4))>0.01","value":0},"value":1},
                         "grid":true,"gridColor":{"condition":{"test":"abs(datum.value*4-round(datum.value*4))>0.01","value":"#f3f3f3"},"value":"#e6e6e6"},"gridWidth":{"condition":{"test":"abs(datum.value*4-round(datum.value*4))>0.01","value":0.5},"value":0.8},
                         "domain":false,"tickSize":2.5,"tickColor":"#333333","tickWidth":0.6,"labelFontSize":7,"labelColor":"#4d4d4d","labelPadding":1.5,
                         "title":"Cumulative survival (percentage)","titleFontSize":8.8,"titleFontWeight":"normal","titleColor":"black","titlePadding":8}},
            "color":{"field":"g","type":"nominal","scale":{"domain":["High","Low"],"range":["#ff0000","#0000ff"]},
                 "legend":{"orient":"bottom-left","direction":"horizontal","title":"COL1A1","titleOrient":"left","titleFontSize":10,"titleFontWeight":"normal","titleColor":"black","labelFontSize":7.5,"labelColor":"black","symbolType":"stroke","symbolStrokeWidth":1.5,"symbolSize":144,"offset":2,"padding":0,"columnPadding":5,"labelOffset":5,"titlePadding":5}}}},
          {"data":{"name":"kmD"},"mark":{"type":"point","shape":"M-1,0L1,0M0,-1L0,1","size":16,"filled":false,"strokeWidth":0.6,"opacity":1},
           "encoding":{"x":{"field":"t","type":"quantitative"},"y":{"field":"s","type":"quantitative"},"color":{"field":"g","type":"nominal"}}},
          {"data":{"values":[{}]},"mark":{"type":"text","align":"right","baseline":"top","fontSize":9.5,"lineHeight":13.5,"color":"black","text":["P: 0.0297","HR : 0.8","(95%CI:0.66-0.98)"]},
           "encoding":{"x":{"datum":8217},"y":{"datum":1.04}}},
          {"data":{"values":[{}]},"mark":{"type":"text","align":"center","baseline":"middle","fontSize":11,"color":"#35358a","text":"Overall survival"},
           "encoding":{"x":{"datum":3624},"y":{"datum":1.159}}},
          {"data":{"values":[{}]},"mark":{"type":"text","text":"D","font":"Liberation Serif","fontSize":17,"align":"center","baseline":"alphabetic","color":"#2e3192"},
           "encoding":{"x":{"datum":-1622},"y":{"datum":1.1195}}}
         ]},
        {"width":206,"height":24,"view":{"stroke":"#7a7a7a","strokeWidth":0.8},
         "title":{"text":"Number at risk","anchor":"start","frame":"group","fontSize":11,"offset":5,"color":"black"},
         "data":{"name":"riskD"},
         "mark":{"type":"text","fontSize":11},
         "encoding":{
          "x":{"field":"t","type":"quantitative","scale":{"domain":[-337,8343],"nice":false,"zero":false},
               "axis":{"values":[0,750,1500,2250,3000,3750,4500,5250,6000,6750,7500,8250],"tickCount":20,"labels":false,"ticks":false,"domain":false,"title":null,"grid":true,
                       "gridColor":{"condition":{"test":"datum.value % 1500 !== 0","value":"#f3f3f3"},"value":"#e6e6e6"},"gridWidth":{"condition":{"test":"datum.value % 1500 !== 0","value":0.5},"value":0.8}}},
          "y":{"field":"g","type":"nominal","scale":{"domain":["High","Low"]},
               "axis":{"title":null,"domain":false,"ticks":false,"labelFontSize":7,"labelPadding":2,"grid":true,"gridColor":"#e6e6e6","gridWidth":0.8,
                       "labelColor":{"condition":{"test":"datum.value==='High'","value":"#ff0000"},"value":"#0000ff"}}},
          "text":{"field":"n"},
          "color":{"value":"black"}
         }}
       ]},
      {"bounds":"flush","spacing":5,"resolve":{"scale":{"color":"independent"},"legend":{"color":"independent"}},
       "vconcat":[
        {"width":1,"height":1,"data":{"values":[]},"mark":"point"},
        {"width":185,"height":169,"view":{"stroke":"black","strokeWidth":1},
         "layer":[
          {"data":{"name":"diag"},"mark":{"type":"line","color":"black","strokeWidth":0.7},
           "encoding":{
            "x":{"field":"x","type":"quantitative","scale":{"domain":[-0.047,1.041],"nice":false,"zero":false},
                 "axis":{"values":[0,0.2,0.4,0.6,0.8,1],"tickCount":20,"format":".1f","labelOverlap":false,"title":"False positive rate","titleFontSize":12,"titleFontWeight":"normal","titleColor":"black","titlePadding":3,"labelFontSize":10.5,"labelColor":"black","labelPadding":11,"tickSize":5,"tickColor":"black","domain":false,"grid":false}},
            "y":{"field":"y","type":"quantitative","scale":{"domain":[-0.038,1.045],"nice":false,"zero":false},
                 "axis":{"values":[0,0.2,0.4,0.6,0.8,1],"tickCount":20,"format":".1f","labelOverlap":false,"labelAngle":270,"title":"True positive rate","titleFontSize":12,"titleFontWeight":"normal","titleColor":"black","titlePadding":7.5,"labelFontSize":10.5,"labelColor":"black","labelPadding":7,"tickSize":5,"tickColor":"black","domain":false,"grid":false}}}},
          {"data":{"name":"roc"},"mark":{"type":"line","color":"#ff0000","strokeWidth":1.5},
           "encoding":{"x":{"field":"fpr","type":"quantitative"},"y":{"field":"tpr","type":"quantitative"}}},
          {"data":{"values":[{}]},"mark":{"type":"text","text":"AUC=0.8672","fontSize":11,"align":"center","baseline":"middle","color":"#35358a"},
           "encoding":{"x":{"datum":0.712},"y":{"datum":0.391}}},
          {"data":{"values":[{}]},"mark":{"type":"text","text":"ROC","fontSize":10,"align":"center","baseline":"middle","color":"#35358a"},
           "encoding":{"x":{"datum":0.488},"y":{"datum":1.173}}},
          {"data":{"values":[{}]},"mark":{"type":"text","text":"E","font":"Liberation Serif","fontSize":17,"align":"center","baseline":"alphabetic","color":"#2e3192"},
           "encoding":{"x":{"datum":-0.206},"y":{"datum":1.115}}}
         ]}
       ]}
     ]}
   ]},
  {"spacing":-32,"resolve":{"scale":{"color":"independent"},"legend":{"color":"independent"}},
   "hconcat":[
    {"width":1,"height":1,"data":{"values":[]},"mark":"point"},
    {"spacing":21,"resolve":{"scale":{"color":"independent"},"legend":{"color":"independent"}},
     "hconcat":[
      {"bounds":"flush","spacing":61,"resolve":{"scale":{"color":"independent"},"legend":{"color":"independent"}},
       "vconcat":[
        {"width":281,"height":155,"view":{"stroke":"#7a7a7a","strokeWidth":0.8},
         "layer":[
          {"data":{"name":"kmF"},"mark":{"type":"line","interpolate":"step-after","strokeWidth":1.6},
           "encoding":{
            "x":{"field":"t","type":"quantitative","scale":{"domain":[-185,4154],"nice":false,"zero":false},
                 "axis":{"values":[0,500,1000,1500,2000,2500,3000,3500,4000],"tickCount":20,"format":"d","labelOverlap":false,"labelExpr":"datum.value % 1000 === 0 ? datum.label : ''",
                         "tickOpacity":{"condition":{"test":"datum.value % 1000 !== 0","value":0},"value":1},
                         "grid":true,"gridColor":{"condition":{"test":"datum.value % 1000 !== 0","value":"#f3f3f3"},"value":"#e6e6e6"},"gridWidth":{"condition":{"test":"datum.value % 1000 !== 0","value":0.5},"value":0.8},
                         "domain":false,"tickSize":2.5,"tickColor":"#333333","tickWidth":0.6,"labelFontSize":8,"labelColor":"#4d4d4d","labelPadding":3,
                         "title":"Time (days)","titleFontSize":12,"titleFontWeight":"normal","titleColor":"black","titlePadding":2}},
            "y":{"field":"s","type":"quantitative","scale":{"domain":[-0.042,1.049],"nice":false,"zero":false},
                 "axis":{"values":[0,0.125,0.25,0.375,0.5,0.625,0.75,0.875,1],"tickCount":20,"format":".2f","labelOverlap":false,"labelExpr":"abs(datum.value*4-round(datum.value*4))>0.01 ? '' : datum.label",
                         "tickOpacity":{"condition":{"test":"abs(datum.value*4-round(datum.value*4))>0.01","value":0},"value":1},
                         "grid":true,"gridColor":{"condition":{"test":"abs(datum.value*4-round(datum.value*4))>0.01","value":"#f3f3f3"},"value":"#e6e6e6"},"gridWidth":{"condition":{"test":"abs(datum.value*4-round(datum.value*4))>0.01","value":0.5},"value":0.8},
                         "domain":false,"tickSize":2.5,"tickColor":"#333333","tickWidth":0.6,"labelFontSize":8.5,"labelColor":"#4d4d4d","labelPadding":1,
                         "title":"Cumulative survival (percentage)","titleFontSize":11,"titleFontWeight":"normal","titleColor":"black","titlePadding":6}},
            "color":{"field":"g","type":"nominal","scale":{"domain":["High","Low"],"range":["#ff0000","#0000ff"]},
                 "legend":{"orient":"bottom-left","direction":"horizontal","title":"COL1A1","titleOrient":"left","titleFontSize":11,"titleFontWeight":"normal","titleColor":"black","labelFontSize":8.5,"labelColor":"black","symbolType":"stroke","symbolStrokeWidth":2,"symbolSize":400,"offset":3,"padding":0,"columnPadding":8,"labelOffset":4,"titlePadding":8}}}},
          {"data":{"name":"kmF"},"mark":{"type":"point","shape":"M-1,0L1,0M0,-1L0,1","size":36,"filled":false,"strokeWidth":0.7,"opacity":1},
           "encoding":{"x":{"field":"t","type":"quantitative"},"y":{"field":"s","type":"quantitative"},"color":{"field":"g","type":"nominal"}}},
          {"data":{"values":[{}]},"mark":{"type":"text","align":"center","baseline":"top","fontSize":11.5,"lineHeight":13.5,"color":"black","text":["P: 0.0047","HR : 0.31","(95%CI:0.14-0.7)"]},
           "encoding":{"x":{"datum":3490},"y":{"datum":0.2535}}},
          {"data":{"values":[{}]},"mark":{"type":"text","align":"center","baseline":"middle","font":"Liberation Serif","fontSize":15,"color":"#35358a","text":"Overall survival"},
           "encoding":{"x":{"datum":2147},"y":{"datum":1.1546}}},
          {"data":{"values":[{}]},"mark":{"type":"text","text":"F","font":"Liberation Serif","fontSize":17,"align":"center","baseline":"alphabetic","color":"#2e3192"},
           "encoding":{"x":{"datum":-779},"y":{"datum":1.162}}}
         ]},
        {"width":281,"height":27,"view":{"stroke":"#7a7a7a","strokeWidth":0.8},
         "title":{"text":"Number at risk","anchor":"start","frame":"group","fontSize":13,"offset":8,"color":"black"},
         "data":{"name":"riskF"},
         "mark":{"type":"text","fontSize":13},
         "encoding":{
          "x":{"field":"t","type":"quantitative","scale":{"domain":[-185,4154],"nice":false,"zero":false},
               "axis":{"values":[0,500,1000,1500,2000,2500,3000,3500,4000],"tickCount":20,"labels":false,"ticks":false,"domain":false,"title":null,"grid":true,
                       "gridColor":{"condition":{"test":"datum.value % 1000 !== 0","value":"#f3f3f3"},"value":"#e6e6e6"},"gridWidth":{"condition":{"test":"datum.value % 1000 !== 0","value":0.5},"value":0.8}}},
          "y":{"field":"g","type":"nominal","scale":{"domain":["High","Low"]},
               "axis":{"title":null,"domain":false,"ticks":false,"labelFontSize":8.5,"labelPadding":3,"grid":true,"gridColor":"#e6e6e6","gridWidth":0.8,
                       "labelColor":{"condition":{"test":"datum.value==='High'","value":"#ff0000"},"value":"#0000ff"}}},
          "text":{"field":"n"},
          "color":{"value":"black"}
         }}
       ]},
      {"bounds":"flush","spacing":61,"resolve":{"scale":{"color":"independent"},"legend":{"color":"independent"}},
       "vconcat":[
        {"width":283,"height":155,"view":{"stroke":"#7a7a7a","strokeWidth":0.8},
         "layer":[
          {"data":{"name":"kmG"},"mark":{"type":"line","interpolate":"step-after","strokeWidth":1.6},
           "encoding":{
            "x":{"field":"t","type":"quantitative","scale":{"domain":[-4.05,84.05],"nice":false,"zero":false},
                 "axis":{"values":[0,10,20,30,40,50,60,70,80],"tickCount":20,"format":"d","labelOverlap":false,"labelExpr":"datum.value % 20 === 0 ? datum.label : ''",
                         "tickOpacity":{"condition":{"test":"datum.value % 20 !== 0","value":0},"value":1},
                         "grid":true,"gridColor":{"condition":{"test":"datum.value % 20 !== 0","value":"#f3f3f3"},"value":"#e6e6e6"},"gridWidth":{"condition":{"test":"datum.value % 20 !== 0","value":0.5},"value":0.8},
                         "domain":false,"tickSize":2.5,"tickColor":"#333333","tickWidth":0.6,"labelFontSize":8,"labelColor":"#4d4d4d","labelPadding":3,
                         "title":"Time (Months)","titleFontSize":12,"titleFontWeight":"normal","titleColor":"black","titlePadding":2}},
            "y":{"field":"s","type":"quantitative","scale":{"domain":[-0.042,1.049],"nice":false,"zero":false},
                 "axis":{"values":[0,0.125,0.25,0.375,0.5,0.625,0.75,0.875,1],"tickCount":20,"format":".2f","labelOverlap":false,"labelExpr":"abs(datum.value*4-round(datum.value*4))>0.01 ? '' : datum.label",
                         "tickOpacity":{"condition":{"test":"abs(datum.value*4-round(datum.value*4))>0.01","value":0},"value":1},
                         "grid":true,"gridColor":{"condition":{"test":"abs(datum.value*4-round(datum.value*4))>0.01","value":"#f3f3f3"},"value":"#e6e6e6"},"gridWidth":{"condition":{"test":"abs(datum.value*4-round(datum.value*4))>0.01","value":0.5},"value":0.8},
                         "domain":false,"tickSize":2.5,"tickColor":"#333333","tickWidth":0.6,"labelFontSize":8.5,"labelColor":"#4d4d4d","labelPadding":2.5,
                         "title":"Cumulative survival (percentage)","titleFontSize":11,"titleFontWeight":"normal","titleColor":"black","titlePadding":4}},
            "color":{"field":"g","type":"nominal","scale":{"domain":["High","Low"],"range":["#ff0000","#0000ff"]},
                 "legend":{"orient":"bottom-left","direction":"horizontal","title":"COL1A1","titleOrient":"left","titleFontSize":11,"titleFontWeight":"normal","titleColor":"black","labelFontSize":8.5,"labelColor":"black","symbolType":"stroke","symbolStrokeWidth":2,"symbolSize":400,"offset":3,"padding":0,"columnPadding":8,"labelOffset":4,"titlePadding":8}}}},
          {"data":{"name":"kmG"},"mark":{"type":"point","shape":"M-1,0L1,0M0,-1L0,1","size":36,"filled":false,"strokeWidth":0.7,"opacity":1},
           "encoding":{"x":{"field":"t","type":"quantitative"},"y":{"field":"s","type":"quantitative"},"color":{"field":"g","type":"nominal"}}},
          {"data":{"values":[{}]},"mark":{"type":"text","align":"center","baseline":"top","fontSize":11.5,"lineHeight":14.5,"color":"black","text":["P: 0.0047","HR : 0.31","(95%CI:0.14-0.7)"]},
           "encoding":{"x":{"datum":69.7},"y":{"datum":1.042}}},
          {"data":{"values":[{}]},"mark":{"type":"text","align":"center","baseline":"middle","font":"Liberation Serif","fontSize":15,"color":"#35358a","text":"Overall survival"},
           "encoding":{"x":{"datum":42.03},"y":{"datum":1.1546}}},
          {"data":{"values":[{}]},"mark":{"type":"text","text":"G","font":"Liberation Serif","fontSize":17,"align":"center","baseline":"alphabetic","color":"#2e3192"},
           "encoding":{"x":{"datum":-18.37},"y":{"datum":1.162}}}
         ]},
        {"width":283,"height":27,"view":{"stroke":"#7a7a7a","strokeWidth":0.8},
         "title":{"text":"Number at risk","anchor":"start","frame":"group","fontSize":13,"offset":8,"color":"black"},
         "data":{"name":"riskG"},
         "mark":{"type":"text","fontSize":13},
         "encoding":{
          "x":{"field":"t","type":"quantitative","scale":{"domain":[-4.05,84.05],"nice":false,"zero":false},
               "axis":{"values":[0,10,20,30,40,50,60,70,80],"tickCount":20,"labels":false,"ticks":false,"domain":false,"title":null,"grid":true,
                       "gridColor":{"condition":{"test":"datum.value % 20 !== 0","value":"#f3f3f3"},"value":"#e6e6e6"},"gridWidth":{"condition":{"test":"datum.value % 20 !== 0","value":0.5},"value":0.8}}},
          "y":{"field":"g","type":"nominal","scale":{"domain":["High","Low"]},
               "axis":{"title":null,"domain":false,"ticks":false,"labelFontSize":8.5,"labelPadding":3,"grid":true,"gridColor":"#e6e6e6","gridWidth":0.8,
                       "labelColor":{"condition":{"test":"datum.value==='High'","value":"#ff0000"},"value":"#0000ff"}}},
          "text":{"field":"n"},
          "color":{"value":"black"}
         }}
       ]}
     ]}
   ]}
 ]}
]
}
